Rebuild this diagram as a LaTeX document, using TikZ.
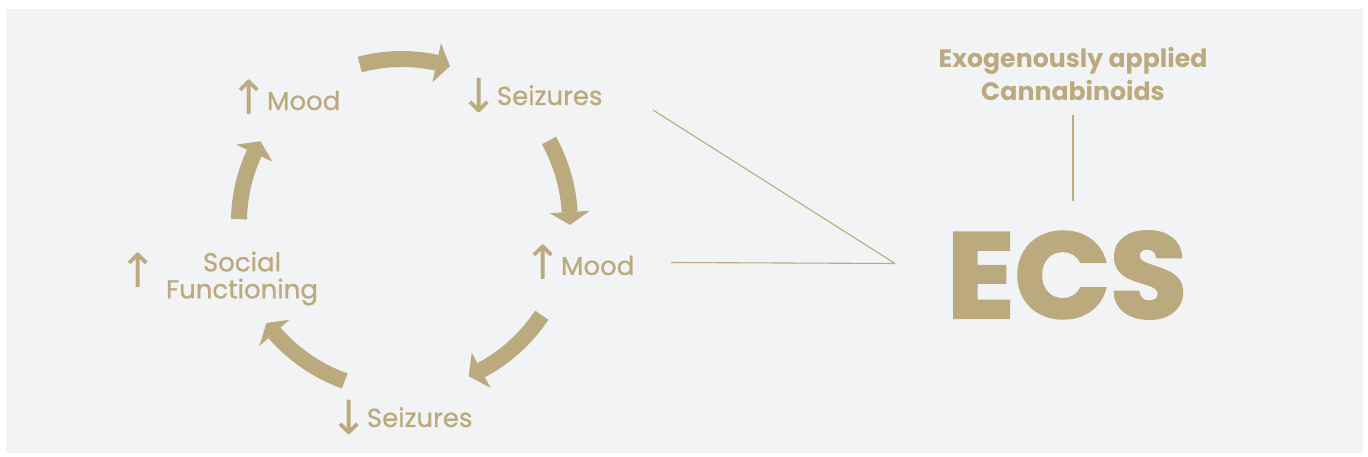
\documentclass[tikz,border=0pt]{standalone}
\usepackage{fontspec}
\setmainfont{Poppins}
\newfontfamily\lblfont{Poppins}[FakeBold=0.8]
\newfontfamily\heavyfont{Poppins}[BoldFeatures={FakeBold=2.5}]
\newfontfamily\arrowfont{DejaVu Sans}
\usetikzlibrary{calc}
\definecolor{gold}{RGB}{187,170,126}
\definecolor{bg}{RGB}{241,243,244}
\newcommand\cycarrow[4]{%
  \draw[band] (#1:#4) arc[start angle=#1, end angle=#2, radius=#4];
  \fill[gold] (#2:{#4-20}) -- (#3:#4) -- (#2:{#4+20}) -- cycle;}
\newcommand\upar{{\arrowfont\fontsize{47}{47}\selectfont\raisebox{-5pt}{↑}}}
\newcommand\downar{{\arrowfont\fontsize{47}{47}\selectfont\raisebox{-8pt}{↓}}}
\begin{document}
\begin{tikzpicture}[x=1pt,y=1pt,
  lbl/.style={text=gold, font=\lblfont\fontsize{26}{27}\selectfont, inner sep=0pt, align=center},
  link/.style={draw=gold, line width=1.1pt},
  band/.style={draw=gold, line width=16pt, line cap=butt},
  ecsstyle/.style={text=gold, inner sep=0pt},
  exostyle/.style={text=gold, font=\bfseries\fontsize{25.2}{33}\selectfont, inner sep=0pt, align=center}]
\useasboundingbox (0,0) rectangle (1368,457);
\fill[bg] (6,4) rectangle (1363,448);
% cycle arrows
\begin{scope}[shift={(402,235)}]
  \cycarrow{105}{77.7}{72.9}{163}
  \cycarrow{29}{3.4}{-1}{168}
  \cycarrow{-33.7}{-61.9}{-66.6}{168}
  \cycarrow{-109.8}{-139}{-143.3}{169}
  \cycarrow{179}{155}{150.3}{163}
\end{scope}
% labels (anchored at text baseline)
\node[lbl, anchor=base] (moodA) at (285,347) {\upar\hspace{-2pt}Mood};
\node[lbl, anchor=base] (seizA) at (531,352) {\downar\hspace{-2pt}Seizures};
\node[lbl, anchor=base] (moodB) at (579,182) {\upar\hspace{-2pt}Mood};
\node[lbl, anchor=base] (seizB) at (401,30) {\downar\hspace{-2pt}Seizures};
\node[lbl] (social) at (242,178.5) {Social\\Functioning};
\node[lbl, anchor=base] (socialarrow) at (138,174) {\upar};
% ECS and exogenous
\node[ecsstyle] (ecs) at (1067,182) {\resizebox{240pt}{86pt}{\heavyfont\bfseries ECS}};
\node[exostyle] (exo) at (1073,383) {Exogenously applied\\Cannabinoids};
% connectors
\coordinate (hub) at (895,193.5);
\coordinate (l1) at (653,347);
\coordinate (l2) at (671,194.5);
\draw[link] (l1) -- (hub);
\draw[link] (l2) -- (hub);
\draw[link, shorten <=14pt, shorten >=30pt] (exo.south) -- (exo.south |- ecs.north);
\end{tikzpicture}
\end{document}
